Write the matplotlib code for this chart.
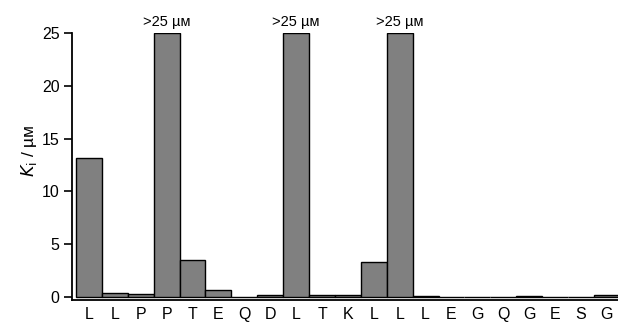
import matplotlib.pyplot as plt

plt.rcParams['font.family'] = ['Liberation Sans', 'DejaVu Sans']

residues = ['L', 'L', 'P', 'P', 'T', 'E', 'Q', 'D', 'L', 'T', 'K',
            'L', 'L', 'L', 'E', 'G', 'Q', 'G', 'E', 'S', 'G']
ki = [13.2, 0.4, 0.25, 25, 3.5, 0.65, 0.0, 0.15, 25, 0.2, 0.2,
      3.3, 25, 0.1, 0.05, 0.02, 0.02, 0.08, 0.05, 0.02, 0.15]
over_label = '>25 µᴍ'

fig = plt.figure(figsize=(6.18, 3.23), dpi=100)
ax = fig.add_axes([0.1165, 0.0712, 0.8835, 0.8266])

x = list(range(len(residues)))
ax.bar(x, ki, width=1.0, color='#808080', edgecolor='black', linewidth=1.0)

for i, v in enumerate(ki):
    if v >= 25:
        ax.text(i, 25.35, over_label, ha='center', va='bottom', fontsize=10.5)

ax.set_xlim(-0.654, 20.43)
ax.set_ylim(-0.28, 25)
ax.set_yticks([0, 5, 10, 15, 20, 25])
ax.set_xticks(x)
ax.set_xticklabels(residues)
ax.tick_params(axis='x', length=0, pad=5, labelsize=11.5)
ax.tick_params(axis='y', length=6, width=1.2, labelsize=11.5, pad=3)
ax.spines['top'].set_visible(False)
ax.spines['right'].set_visible(False)
ax.spines['left'].set_linewidth(1.3)
ax.spines['bottom'].set_linewidth(1.3)
ax.set_ylabel(r'$K_\mathrm{i}$ / µᴍ', fontsize=12.5)
ax.yaxis.set_label_coords(-0.06, 0.56)

fig.savefig('out.png', dpi=100)
